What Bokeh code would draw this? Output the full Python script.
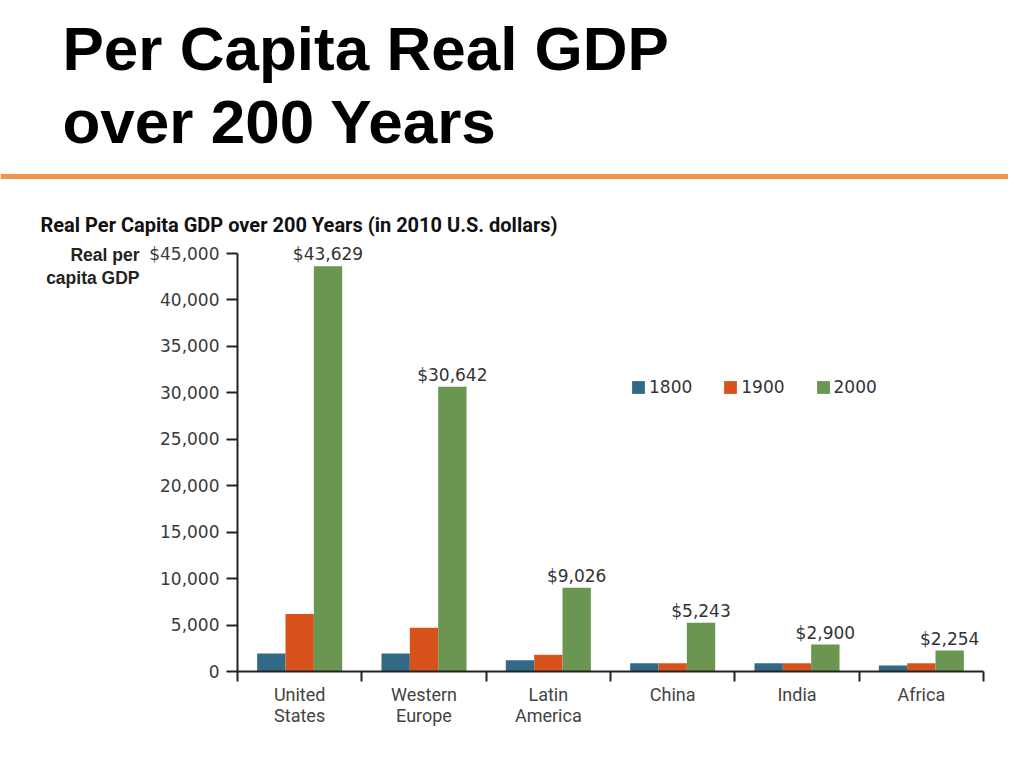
from bokeh.plotting import figure
from bokeh.models import (Range1d, LinearAxis, FixedTicker,
                          NumeralTickFormatter, Legend, LegendItem, ColumnDataSource)
from bokeh.transform import dodge
from bokeh.layouts import column, row
from bokeh.embed import file_html
from bokeh.resources import INLINE
from bokeh.core.properties import value

# ---------------- data ----------------
title_lines = ["Per Capita Real GDP", "over 200 Years"]
chart_title = "Real Per Capita GDP over 200 Years (in 2010 U.S. dollars)"
y_label_lines = ["Real per", "capita GDP"]
regions = ["United\nStates", "Western\nEurope", "Latin\nAmerica", "China", "India", "Africa"]
years = ["1800", "1900", "2000"]
gdp_1800 = [1950, 1950, 1200, 900, 900, 650]
gdp_1900 = [6200, 4700, 1800, 900, 900, 900]
gdp_2000 = [43629, 30642, 9026, 5243, 2900, 2254]
y_ticks = [0, 5000, 10000, 15000, 20000, 25000, 30000, 35000, 40000, 45000]
colors = ["#326a85", "#d8521c", "#6a9651"]

n = len(regions)
centers = [i + 0.5 for i in range(n)]
edges = list(range(n + 1))
Y_AXIS_MAX = y_ticks[-1]


def blank_fig(w, h):
    f = figure(width=w, height=h, x_range=Range1d(0, w), y_range=Range1d(h, 0),
               output_backend="svg", toolbar_location=None, min_border=0,
               x_axis_location=None, y_axis_location=None)
    f.frame_align = False
    f.grid.visible = False
    f.outline_line_color = None
    return f


# ---------------- slide header ----------------
TOP_H = 240
top = blank_fig(1008, TOP_H)
top.text(x=[62, 62], y=[48, 121], text=title_lines, text_font=value("Liberation Sans"),
         text_font_style="bold", text_font_size="62px", text_color="#000000",
         text_baseline="alphabetic", text_align="left")
top.segment(x0=[0], y0=[176], x1=[1008], y1=[176], line_width=5, line_color="#f2954a")
top.text(x=[40], y=[224], text=[chart_title], text_font=value("Roboto"),
         text_font_style="bold", text_font_size="20px", text_color="#111111",
         text_baseline="alphabetic", text_align="left")

# ---------------- y caption column ----------------
LEFT_W, CH = 145, 520
left = blank_fig(LEFT_W, CH)
left.text(x=[139, 139], y=[24, 47], text=y_label_lines, text_font=value("Liberation Sans"),
          text_font_style="bold", text_font_size="17.5px", text_color="#222222",
          text_baseline="bottom", text_align="right")

# ---------------- chart ----------------
# the plot area reaches 12px above the $45,000 tick so the top value label is not clipped
AXIS_PX, EXTRA_PX = 418, 12
y_top = Y_AXIS_MAX * (AXIS_PX + EXTRA_PX) / AXIS_PX
p = figure(width=1008 - LEFT_W, height=CH, x_range=Range1d(0, n),
           y_range=Range1d(0, y_top), output_backend="svg", toolbar_location=None,
           x_axis_location=None, y_axis_location="left",
           min_border_left=237 - LEFT_W, min_border_right=25,
           min_border_top=13 - EXTRA_PX, min_border_bottom=89)
p.frame_align = False
p.grid.visible = False
p.outline_line_color = None

yax = p.yaxis[0]
yax.bounds = (0, Y_AXIS_MAX)
yax.ticker = FixedTicker(ticks=y_ticks)
yax.formatter = NumeralTickFormatter(format="0,0")
yax.major_label_overrides = {Y_AXIS_MAX: "$45,000"}
yax.major_tick_out = 11
yax.major_tick_in = 0
yax.minor_tick_line_color = None
yax.axis_line_width = 2
yax.major_tick_line_width = 2
yax.axis_line_color = "#222222"
yax.major_tick_line_color = "#222222"
yax.major_label_standoff = 7
yax.major_label_text_font = "DejaVu Sans"
yax.major_label_text_font_size = "17px"
yax.major_label_text_color = "#3a3a3a"

edge_axis = LinearAxis(ticker=FixedTicker(ticks=edges),
                       major_label_overrides={e: "" for e in edges},
                       major_tick_out=10, major_tick_in=0, minor_tick_line_color=None,
                       major_label_text_font_size="0px", major_label_standoff=0,
                       axis_line_width=2, major_tick_line_width=2,
                       axis_line_color="#222222", major_tick_line_color="#222222")
p.add_layout(edge_axis, "below")
cat_axis = LinearAxis(ticker=FixedTicker(ticks=centers),
                      major_label_overrides={c: r for c, r in zip(centers, regions)},
                      axis_line_color=None, major_tick_line_color=None, minor_tick_line_color=None,
                      major_label_standoff=-4, major_label_text_font="Roboto",
                      major_label_text_font_size="18px", major_label_text_color="#444444",
                      major_label_text_line_height=1.0)
p.add_layout(cat_axis, "below")

src = ColumnDataSource(dict(xc=centers, y1800=gdp_1800, y1900=gdp_1900, y2000=gdp_2000,
                            lbl=["${:,}".format(v) for v in gdp_2000]))
w = 0.228
r1 = p.vbar(x=dodge("xc", -w), top="y1800", width=w, source=src,
            fill_color=colors[0], line_color=None)
r2 = p.vbar(x=dodge("xc", 0), top="y1900", width=w, source=src,
            fill_color=colors[1], line_color=None)
r3 = p.vbar(x=dodge("xc", w), top="y2000", width=w, source=src,
            fill_color=colors[2], line_color=None)
p.text(x=dodge("xc", w), y="y2000", text="lbl", source=src,
       text_align="center", text_baseline="bottom", y_offset=-2,
       text_font=value("DejaVu Sans"), text_font_size="17px", text_color="#333333")

legend = Legend(items=[LegendItem(label=years[0], renderers=[r1]),
                       LegendItem(label=years[1], renderers=[r2]),
                       LegendItem(label=years[2], renderers=[r3])],
                orientation="horizontal", location=(393, 274), glyph_width=16, glyph_height=16,
                label_standoff=3, spacing=30, padding=0, margin=0, border_line_color=None,
                background_fill_alpha=0, label_text_font="DejaVu Sans",
                label_text_font_size="17px", label_text_color="#333333")
p.add_layout(legend)

layout = column(top, row(left, p, spacing=0), spacing=0)
open("out.html", "w").write(file_html(layout, INLINE))
